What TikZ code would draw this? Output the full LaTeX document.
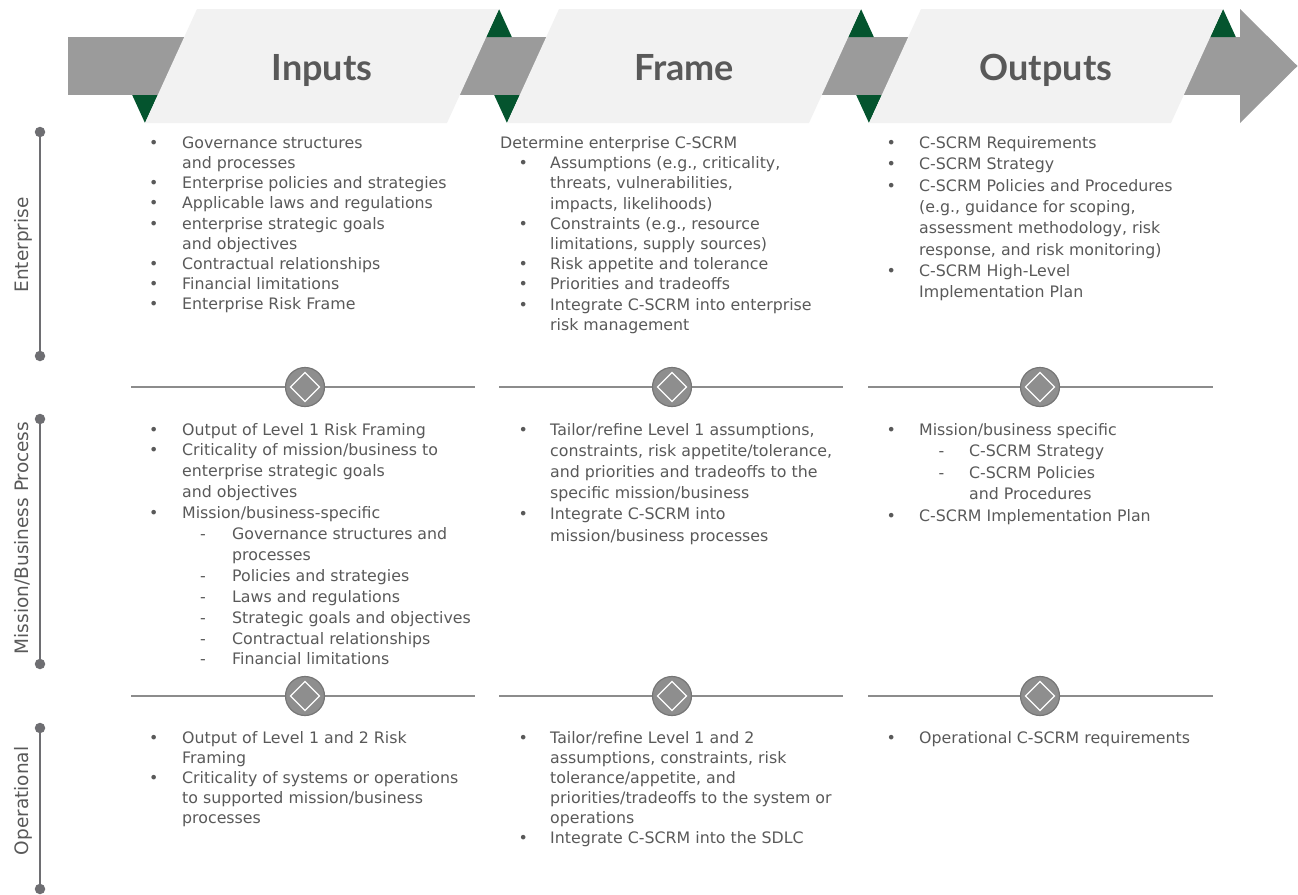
\documentclass[tikz,border=0pt]{standalone}
\usepackage{fontspec}
\setmainfont{DejaVu Sans}
\newfontfamily\headfont{Lato}
\usetikzlibrary{shapes.geometric}

\definecolor{txt}{HTML}{595959}
\definecolor{band}{HTML}{9B9B9B}
\definecolor{panel}{HTML}{F2F2F2}
\definecolor{pine}{HTML}{04542E}
\definecolor{rulec}{HTML}{8C8C8C}
\definecolor{barc}{HTML}{6E6E72}
\definecolor{knob}{HTML}{8E8E8E}
\definecolor{knobedge}{HTML}{767676}

% list markers and indents, one set per column
\newcommand\inB{\makebox[33pt][l]{•}}
\newcommand\inC{\hspace*{33pt}}
\newcommand\inD{\hspace*{51pt}\makebox[32pt][l]{-}}
\newcommand\inE{\hspace*{83pt}}
\newcommand\frB{\hspace*{18.5pt}\makebox[31.5pt][l]{•}}
\newcommand\frC{\hspace*{50pt}}
\newcommand\ouB{\makebox[32.5pt][l]{•}}
\newcommand\ouC{\hspace*{32.5pt}}
\newcommand\ouD{\hspace*{52pt}\makebox[30.5pt][l]{-}}
\newcommand\ouE{\hspace*{82.5pt}}

\begin{document}
\begin{tikzpicture}[x=1pt, y=-1pt,
  cell/.style={anchor=base west, inner sep=0pt, text=txt,
               font=\fontsize{15.8}{#1}\selectfont},
  title/.style={anchor=base, inner sep=0pt, text=txt,
                font=\headfont\bfseries\fontsize{36}{40}\selectfont},
  side/.style={rotate=90, anchor=base, inner sep=0pt, text=txt,
               font=\fontsize{18.5}{22}\selectfont},
  dot/.style={circle, fill=barc, inner sep=0pt, minimum size=10.5pt},
  barline/.style={draw=barc, line width=2pt},
  ruleline/.style={draw=rulec, line width=1.8pt},
  knobnode/.style={circle, fill=knob, draw=knobedge, line width=1.2pt,
                   inner sep=0pt, minimum size=39pt,
                   path picture={\draw[white, line width=1.3pt]
                     ([yshift=-14.5pt]path picture bounding box.center)
                     -- ++(14.5pt,14.5pt) -- ++(-14.5pt,14.5pt)
                     -- ++(-14.5pt,-14.5pt) -- cycle;}},
]
\useasboundingbox (0,0) rectangle (1298,894);

% ---------- process arrow ----------
\fill[band] (68,37) rectangle (1240,95);
\fill[band] (1240,9) -- (1297.5,66) -- (1240,123) -- cycle;
\foreach \x in {145,507,869} {
  \fill[pine] (\x,123) -- (\x-12.8,95) -- (\x+12.8,95) -- cycle;
  \fill[pine] (\x+354,9) -- (\x+341.2,37) -- (\x+366.8,37) -- cycle;
  \fill[panel] (\x,123) -- (\x+52,9) -- (\x+354,9) -- (\x+302,123) -- cycle;
}
\node[title] (tIn)  at (322,80)  {Inputs};
\node[title] (tFr)  at (684,80)  {Frame};
\node[title] (tOut) at (1046,80) {Outputs};

% ---------- tier bars ----------
\node[dot] (entTop) at (40,132) {};
\node[dot] (entBot) at (40,356) {};
\draw[barline] (entTop) -- (entBot);
\node[dot] (misTop) at (40,419) {};
\node[dot] (misBot) at (40,664) {};
\draw[barline] (misTop) -- (misBot);
\node[dot] (opTop) at (40,728) {};
\node[dot] (opBot) at (40,889) {};
\draw[barline] (opTop) -- (opBot);

\node[side] (lEnt) at (28.5,245) {Enterprise};
\node[side] (lMis) at (28.5,538) {Mission/Business Process};
\node[side] (lOp)  at (28.5,801) {Operational};

% ---------- tier dividers ----------
\foreach \yy/\r in {387/a,696/b} {
  \foreach \l/\c/\rr/\k in {131/305/475/1,499/672/843/2,868/1040/1213/3} {
    \coordinate (L\r\k) at (\l,\yy);
    \coordinate (R\r\k) at (\rr,\yy);
    \draw[ruleline] (L\r\k) -- (R\r\k);
    \node[knobnode] (K\r\k) at (\c,\yy) {};
  }
}

% ---------- enterprise tier ----------
\node[cell=20.15] (entIn) at (149,148.5) {\parbox[t]{400pt}{%
\inB Governance structures\\
\inC and processes\\
\inB Enterprise policies and strategies\\
\inB Applicable laws and regulations\\
\inB enterprise strategic goals\\
\inC and objectives\\
\inB Contractual relationships\\
\inB Financial limitations\\
\inB Enterprise Risk Frame}};

\node[cell=20.2] (entFr) at (500,148.5) {\parbox[t]{400pt}{%
Determine enterprise C-SCRM\\
\frB Assumptions (e.g., criticality,\\
\frC threats, vulnerabilities,\\
\frC impacts, likelihoods)\\
\frB Constraints (e.g., resource\\
\frC limitations, supply sources)\\
\frB Risk appetite and tolerance\\
\frB Priorities and tradeoffs\\
\frB Integrate C-SCRM into enterprise\\
\frC risk management}};

\node[cell=21.3] (entOut) at (886.5,148.5) {\parbox[t]{400pt}{%
\ouB C-SCRM Requirements\\
\ouB C-SCRM Strategy\\
\ouB C-SCRM Policies and Procedures\\
\ouC (e.g., guidance for scoping,\\
\ouC assessment methodology, risk\\
\ouC response, and risk monitoring)\\
\ouB C-SCRM High-Level\\
\ouC Implementation Plan}};

% ---------- mission/business process tier ----------
\node[cell=20.9] (misIn) at (149,435) {\parbox[t]{400pt}{%
\inB Output of Level 1 Risk Framing\\
\inB Criticality of mission/business to\\
\inC enterprise strategic goals\\
\inC and objectives\\
\inB Mission/business-specific\\
\inD Governance structures and\\
\inE processes\\
\inD Policies and strategies\\
\inD Laws and regulations\\
\inD Strategic goals and objectives\\
\inD Contractual relationships\\
\inD Financial limitations}};

\node[cell=21.2] (misFr) at (500,435) {\parbox[t]{400pt}{%
\frB Tailor/refine Level 1 assumptions,\\
\frC constraints, risk appetite/tolerance,\\
\frC and priorities and tradeoffs to the\\
\frC specific mission/business\\
\frB Integrate C-SCRM into\\
\frC mission/business processes}};

\node[cell=21.5] (misOut) at (886.5,435) {\parbox[t]{400pt}{%
\ouB Mission/business specific\\
\ouD C-SCRM Strategy\\
\ouD C-SCRM Policies\\
\ouE and Procedures\\
\ouB C-SCRM Implementation Plan}};

% ---------- operational tier ----------
\node[cell=20] (opIn) at (149,743) {\parbox[t]{400pt}{%
\inB Output of Level 1 and 2 Risk\\
\inC Framing\\
\inB Criticality of systems or operations\\
\inC to supported mission/business\\
\inC processes}};

\node[cell=20] (opFr) at (500,743) {\parbox[t]{400pt}{%
\frB Tailor/refine Level 1 and 2\\
\frC assumptions, constraints, risk\\
\frC tolerance/appetite, and\\
\frC priorities/tradeoffs to the system or\\
\frC operations\\
\frB Integrate C-SCRM into the SDLC}};

\node[cell=20] (opOut) at (886.5,743) {\parbox[t]{400pt}{%
\ouB Operational C-SCRM requirements}};
\end{tikzpicture}
\end{document}
